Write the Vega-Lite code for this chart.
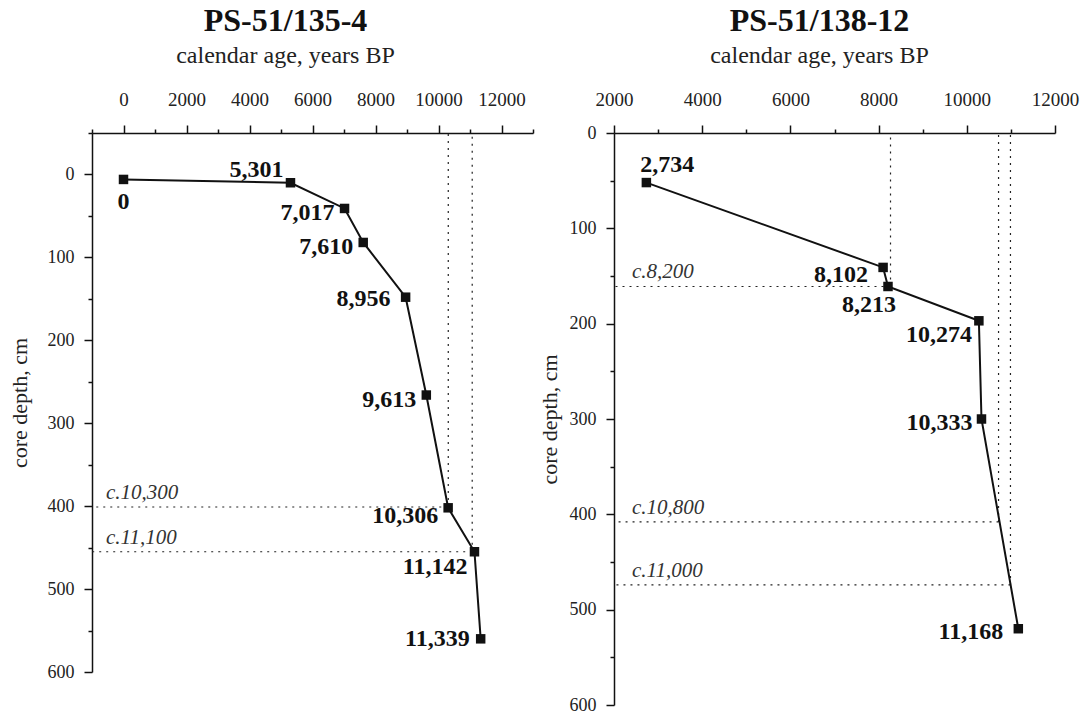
{
  "$schema": "https://vega.github.io/schema/vega-lite/v6.json",
  "background": "white",
  "padding": {"left": 8, "top": 5, "right": 5, "bottom": 0},
  "config": {
    "font": "Liberation Serif",
    "view": {"stroke": null},
    "axis": {"grid": false, "domainColor": "#111", "tickColor": "#111", "labelColor": "#222", "titleColor": "#222", "labelFont": "Liberation Serif", "labelFontSize": 18, "titleFont": "Liberation Serif", "titleFontSize": 22, "titleFontWeight": "normal", "domainWidth": 1.5, "tickWidth": 1.5, "labelOverlap": false, "labelFlush": false},
    "title": {"font": "Liberation Serif", "fontSize": 32, "fontWeight": "bold", "color": "#111", "subtitleFont": "Liberation Serif", "subtitleFontSize": 24, "subtitleColor": "#222", "subtitlePadding": 6, "offset": 21, "frame": "group"}
  },
  "datasets": {
    "leftPoints": [
      {"age": 0, "depth": 6},
      {"age": 5301, "depth": 10},
      {"age": 7017, "depth": 41},
      {"age": 7610, "depth": 82},
      {"age": 8956, "depth": 148},
      {"age": 9613, "depth": 266},
      {"age": 10306, "depth": 402},
      {"age": 11142, "depth": 455},
      {"age": 11339, "depth": 560}
    ],
    "leftRefs": [
      {"label": "c.10,300", "age": 10310, "depth": 401},
      {"label": "c.11,100", "age": 11070, "depth": 455}
    ],
    "rightPoints": [
      {"age": 2734, "depth": 52},
      {"age": 8102, "depth": 141},
      {"age": 8213, "depth": 161},
      {"age": 10274, "depth": 197},
      {"age": 10333, "depth": 300},
      {"age": 11168, "depth": 520}
    ],
    "rightRefs": [
      {"label": "c.8,200", "age": 8270, "depth": 161},
      {"label": "c.10,800", "age": 10720, "depth": 408},
      {"label": "c.11,000", "age": 10990, "depth": 474}
    ]
  },
  "spacing": 4,
  "hconcat": [
    {
      "width": 441,
      "height": 539,
      "title": {"text": "PS-51/135-4", "subtitle": "calendar age, years BP", "dx": -27},
      "encoding": {
        "x": {"field": "age", "type": "quantitative", "scale": {"domain": [-1000, 13000], "nice": false, "zero": false},
          "axis": {"orient": "top", "title": null, "values": [-1000, 0, 1000, 2000, 3000, 4000, 5000, 6000, 7000, 8000, 9000, 10000, 11000, 12000, 13000], "format": "d",
            "labelExpr": "datum.value % 2000 === 0 && datum.value >= 0 && datum.value <= 12000 ? datum.label : ''",
            "labelFontSize": 19,
            "tickSize": {"condition": {"test": "datum.value % 2000 === 0", "value": 8}, "value": 4}, "labelPadding": 16}},
        "y": {"field": "depth", "type": "quantitative", "scale": {"domain": [-50, 600], "reverse": true, "nice": false, "zero": false},
          "axis": {"title": "core depth, cm", "values": [-50, 0, 50, 100, 150, 200, 250, 300, 350, 400, 450, 500, 550, 600], "format": "d",
            "labelExpr": "datum.value % 100 === 0 && datum.value >= 0 ? datum.label : ''",
            "tickSize": {"condition": {"test": "datum.value % 100 === 0", "value": 8}, "value": 4}, "labelPadding": 10, "titlePadding": 16}}
      },
      "layer": [
        {
          "data": {"name": "leftRefs"},
          "mark": {"type": "rule", "strokeDash": [2, 5], "strokeWidth": 1.2, "color": "#222"},
          "encoding": {"x2": {"datum": -1000}}
        },
        {
          "data": {"name": "leftRefs"},
          "mark": {"type": "rule", "strokeDash": [2, 5], "strokeWidth": 1.2, "color": "#222"},
          "encoding": {"y2": {"datum": -50}}
        },
        {
          "data": {"name": "leftRefs"},
          "mark": {"type": "text", "align": "left", "baseline": "alphabetic", "dx": 14, "dy": -8, "fontStyle": "italic", "fontSize": 21, "color": "#333"},
          "encoding": {
            "x": {"datum": -1000, "type": "quantitative", "scale": {"domain": [-1000, 13000], "nice": false, "zero": false},
              "axis": {"orient": "top", "title": null, "values": [-1000, 0, 1000, 2000, 3000, 4000, 5000, 6000, 7000, 8000, 9000, 10000, 11000, 12000, 13000], "format": "d",
                "labelExpr": "datum.value % 2000 === 0 && datum.value >= 0 && datum.value <= 12000 ? datum.label : ''",
                "labelFontSize": 19,
                "tickSize": {"condition": {"test": "datum.value % 2000 === 0", "value": 8}, "value": 4}, "labelPadding": 16}},
            "text": {"field": "label"}
          }
        },
        {
          "data": {"name": "leftPoints"},
          "mark": {"type": "line", "color": "#111", "strokeWidth": 2},
          "encoding": {"order": {"field": "depth", "type": "quantitative"}}
        },
        {
          "data": {"name": "leftPoints"},
          "mark": {"type": "point", "shape": "square", "filled": true, "size": 90, "color": "#111", "opacity": 1}
        },
        {
          "data": {"name": "leftPoints"},
          "transform": [{"filter": "datum.age === 0"}],
          "mark": {"type": "text", "align": "center", "baseline": "middle", "dy": 23, "fontWeight": "bold", "fontSize": 24, "color": "#111"},
          "encoding": {"text": {"field": "age", "type": "quantitative", "format": ",d"}}
        },
        {
          "data": {"name": "leftPoints"},
          "transform": [{"filter": "datum.age === 5301"}],
          "mark": {"type": "text", "align": "right", "baseline": "middle", "dx": -7, "dy": -13, "fontWeight": "bold", "fontSize": 24, "color": "#111"},
          "encoding": {"text": {"field": "age", "type": "quantitative", "format": ",d"}}
        },
        {
          "data": {"name": "leftPoints"},
          "transform": [{"filter": {"field": "age", "oneOf": [7017, 7610, 9613]}}],
          "mark": {"type": "text", "align": "right", "baseline": "middle", "dx": -10, "dy": 5, "fontWeight": "bold", "fontSize": 24, "color": "#111"},
          "encoding": {"text": {"field": "age", "type": "quantitative", "format": ",d"}}
        },
        {
          "data": {"name": "leftPoints"},
          "transform": [{"filter": "datum.age === 8956"}],
          "mark": {"type": "text", "align": "right", "baseline": "middle", "dx": -15, "dy": 2, "fontWeight": "bold", "fontSize": 24, "color": "#111"},
          "encoding": {"text": {"field": "age", "type": "quantitative", "format": ",d"}}
        },
        {
          "data": {"name": "leftPoints"},
          "transform": [{"filter": "datum.age === 10306"}],
          "mark": {"type": "text", "align": "right", "baseline": "middle", "dx": -10, "dy": 8, "fontWeight": "bold", "fontSize": 24, "color": "#111"},
          "encoding": {"text": {"field": "age", "type": "quantitative", "format": ",d"}}
        },
        {
          "data": {"name": "leftPoints"},
          "transform": [{"filter": "datum.age === 11142"}],
          "mark": {"type": "text", "align": "right", "baseline": "middle", "dx": -7, "dy": 15, "fontWeight": "bold", "fontSize": 24, "color": "#111"},
          "encoding": {"text": {"field": "age", "type": "quantitative", "format": ",d"}}
        },
        {
          "data": {"name": "leftPoints"},
          "transform": [{"filter": "datum.age === 11339"}],
          "mark": {"type": "text", "align": "right", "baseline": "middle", "dx": -11, "dy": 0, "fontWeight": "bold", "fontSize": 24, "color": "#111"},
          "encoding": {"text": {"field": "age", "type": "quantitative", "format": ",d"}}
        }
      ]
    },
    {
      "width": 441,
      "height": 572,
      "title": {"text": "PS-51/138-12", "subtitle": "calendar age, years BP", "dx": -15},
      "encoding": {
        "x": {"field": "age", "type": "quantitative", "scale": {"domain": [2000, 12000], "nice": false, "zero": false},
          "axis": {"orient": "top", "title": null, "values": [2000, 3000, 4000, 5000, 6000, 7000, 8000, 9000, 10000, 11000, 12000], "format": "d",
            "labelExpr": "datum.value % 2000 === 0 ? datum.label : ''",
            "labelFontSize": 19,
            "tickSize": {"condition": {"test": "datum.value % 2000 === 0", "value": 8}, "value": 4}, "labelPadding": 16}},
        "y": {"field": "depth", "type": "quantitative", "scale": {"domain": [0, 600], "reverse": true, "nice": false, "zero": false},
          "axis": {"title": "core depth, cm", "values": [0, 50, 100, 150, 200, 250, 300, 350, 400, 450, 500, 550, 600], "format": "d",
            "labelExpr": "datum.value % 100 === 0 ? datum.label : ''",
            "tickSize": {"condition": {"test": "datum.value % 100 === 0", "value": 8}, "value": 4}, "labelPadding": 10, "titlePadding": 8}}
      },
      "layer": [
        {
          "data": {"name": "rightRefs"},
          "mark": {"type": "rule", "strokeDash": [2, 5], "strokeWidth": 1.2, "color": "#222"},
          "encoding": {"x2": {"datum": 2000}}
        },
        {
          "data": {"name": "rightRefs"},
          "mark": {"type": "rule", "strokeDash": [2, 5], "strokeWidth": 1.2, "color": "#222"},
          "encoding": {"y2": {"datum": 0}}
        },
        {
          "data": {"name": "rightRefs"},
          "mark": {"type": "text", "align": "left", "baseline": "alphabetic", "dx": 18, "dy": -8, "fontStyle": "italic", "fontSize": 21, "color": "#333"},
          "encoding": {
            "x": {"datum": 2000, "type": "quantitative", "scale": {"domain": [2000, 12000], "nice": false, "zero": false},
              "axis": {"orient": "top", "title": null, "values": [2000, 3000, 4000, 5000, 6000, 7000, 8000, 9000, 10000, 11000, 12000], "format": "d",
                "labelExpr": "datum.value % 2000 === 0 ? datum.label : ''",
                "labelFontSize": 19,
                "tickSize": {"condition": {"test": "datum.value % 2000 === 0", "value": 8}, "value": 4}, "labelPadding": 16}},
            "text": {"field": "label"}
          }
        },
        {
          "data": {"name": "rightPoints"},
          "mark": {"type": "line", "color": "#111", "strokeWidth": 2},
          "encoding": {"order": {"field": "depth", "type": "quantitative"}}
        },
        {
          "data": {"name": "rightPoints"},
          "mark": {"type": "point", "shape": "square", "filled": true, "size": 90, "color": "#111", "opacity": 1}
        },
        {
          "data": {"name": "rightPoints"},
          "transform": [{"filter": "datum.age === 2734"}],
          "mark": {"type": "text", "align": "left", "baseline": "middle", "dx": -6, "dy": -18, "fontWeight": "bold", "fontSize": 24, "color": "#111"},
          "encoding": {"text": {"field": "age", "type": "quantitative", "format": ",d"}}
        },
        {
          "data": {"name": "rightPoints"},
          "transform": [{"filter": "datum.age === 8102"}],
          "mark": {"type": "text", "align": "right", "baseline": "middle", "dx": -15, "dy": 8, "fontWeight": "bold", "fontSize": 24, "color": "#111"},
          "encoding": {"text": {"field": "age", "type": "quantitative", "format": ",d"}}
        },
        {
          "data": {"name": "rightPoints"},
          "transform": [{"filter": "datum.age === 8213"}],
          "mark": {"type": "text", "align": "right", "baseline": "middle", "dx": 8, "dy": 19, "fontWeight": "bold", "fontSize": 24, "color": "#111"},
          "encoding": {"text": {"field": "age", "type": "quantitative", "format": ",d"}}
        },
        {
          "data": {"name": "rightPoints"},
          "transform": [{"filter": "datum.age === 10274"}],
          "mark": {"type": "text", "align": "right", "baseline": "middle", "dx": -7, "dy": 14, "fontWeight": "bold", "fontSize": 24, "color": "#111"},
          "encoding": {"text": {"field": "age", "type": "quantitative", "format": ",d"}}
        },
        {
          "data": {"name": "rightPoints"},
          "transform": [{"filter": "datum.age === 10333"}],
          "mark": {"type": "text", "align": "right", "baseline": "middle", "dx": -9, "dy": 4, "fontWeight": "bold", "fontSize": 24, "color": "#111"},
          "encoding": {"text": {"field": "age", "type": "quantitative", "format": ",d"}}
        },
        {
          "data": {"name": "rightPoints"},
          "transform": [{"filter": "datum.age === 11168"}],
          "mark": {"type": "text", "align": "right", "baseline": "middle", "dx": -15, "dy": 3, "fontWeight": "bold", "fontSize": 24, "color": "#111"},
          "encoding": {"text": {"field": "age", "type": "quantitative", "format": ",d"}}
        }
      ]
    }
  ]
}
